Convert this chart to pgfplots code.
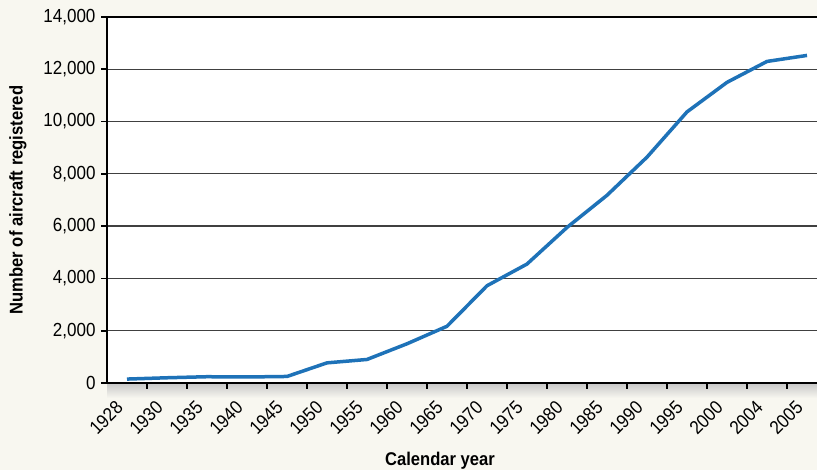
\documentclass[border=0pt]{standalone}
\usepackage{fontspec}
\setmainfont{Liberation Sans}[FakeStretch=0.9]
\usepackage{pgfplots}
\pgfplotsset{compat=1.18}
\definecolor{bg}{RGB}{248,247,240}
\definecolor{linec}{RGB}{30,114,184}
\begin{document}
\begin{tikzpicture}[x=1bp,y=1bp]
\path[use as bounding box] (0,0) rectangle (817,470);
\clip (0,0) rectangle (817,470);
\fill[bg] (0,0) rectangle (817,470);
\shade[top color=black!22, bottom color=bg] (107,72) rectangle (827,87);
\begin{axis}[
  at={(107bp,87bp)}, anchor=south west,
  scale only axis, width=720bp, height=366bp,
  xmin=-0.5, xmax=17.5, ymin=0, ymax=14000,
  axis background/.style={fill=white},
  axis line style={line width=2.2bp, black},
  ymajorgrids, grid style={line width=1.3bp, black!75},
  ytick={0,2000,...,14000},
  scaled y ticks=false,
  xtick={0.5,1.5,...,16.5}, xticklabels={},
  extra x ticks={0,...,17},
  extra x tick labels={1928,1930,1935,1940,1945,1950,1955,1960,1965,1970,1975,1980,1985,1990,1995,2000,2004,2005},
  extra x tick style={major tick length=0pt, grid=none},
  tick align=outside, major tick length=6bp,
  tick style={line width=1.8bp, black},
  xtick pos=bottom, ytick pos=left,
  yticklabel style={font=\fontsize{19}{21}\selectfont, xshift=-2bp},
  xticklabel style={font=\fontsize{19}{21}\selectfont, xshift=-5bp, yshift=-19bp, rotate=45, anchor=east},
  /pgf/number format/.cd, 1000 sep={,}, assume math mode=true,
  /pgfplots/.cd,
  xlabel={Calendar year},
  ylabel={Number of aircraft registered},
  xlabel style={at={(axis description cs:0.4625,-0.213)}, anchor=center, font=\fontsize{18.5}{20}\selectfont\bfseries},
  ylabel style={at={(axis description cs:-0.1236,0.5)}, anchor=center, font=\fontsize{18.5}{20}\selectfont\bfseries},
]
\addplot[linec, line width=3.5bp, line join=round] coordinates {
(0,150) (1,200) (2,240) (3,230) (4,250) (5,770) (6,900) (7,1500) (8,2170)
(9,3720) (10,4550) (11,5950) (12,7180) (13,8640) (14,10370) (15,11500)
(16,12300) (17,12530)};
\end{axis}
\end{tikzpicture}
\end{document}
